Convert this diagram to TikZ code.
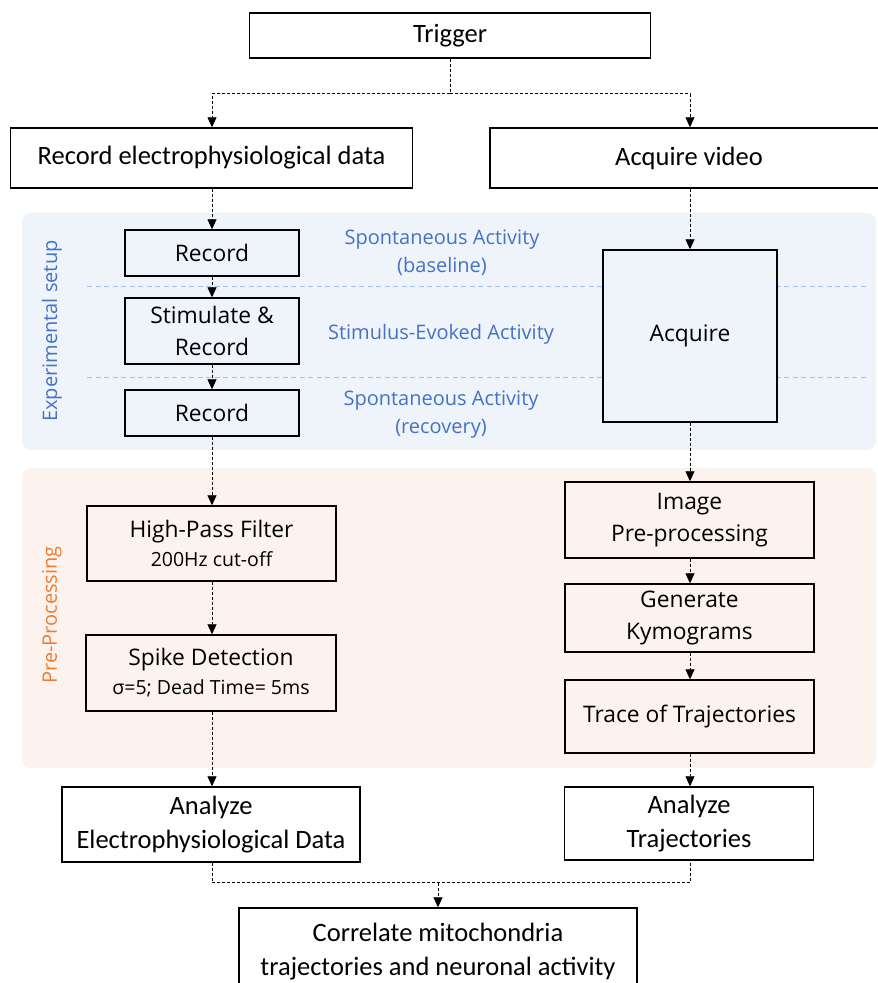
\documentclass[tikz,border=0pt]{standalone}
\usepackage{fontspec}
\setmainfont{Carlito}
\newfontfamily\segoe{Open Sans}
\usetikzlibrary{arrows.meta,positioning}
\definecolor{setupblue}{RGB}{239,244,250}
\definecolor{preppeach}{RGB}{252,243,238}
\definecolor{labelblue}{RGB}{68,114,196}
\definecolor{labelorange}{RGB}{237,125,49}
\definecolor{sepblue}{RGB}{160,190,232}
\newcommand{\subfont}{\segoe\fontsize{19.5}{24}\selectfont}

\begin{document}
\begin{tikzpicture}[x=1pt,y=-1pt,
    outbox/.style={draw,line width=1.4pt,inner sep=0pt,align=center,
      font=\fontsize{26.5}{34}\selectfont},
    inbox/.style={draw,line width=1.4pt,inner sep=0pt,align=center,
      font=\segoe\fontsize{22.8}{32}\selectfont},
    phase/.style={text=labelblue,align=center,font=\segoe\fontsize{20}{28}\selectfont},
    region/.style={rotate=90,font=\segoe\fontsize{20}{24}\selectfont},
    flow/.style={densely dashed,line width=0.7pt,-{Triangle[length=10pt,width=9pt]}},
    flowline/.style={densely dashed,line width=0.7pt},
  ]
  \useasboundingbox (0,0) rectangle (878,983);
  % background regions
  \fill[setupblue,rounded corners=9pt] (22,213) rectangle (876,450);
  \fill[preppeach,rounded corners=9pt] (22,468) rectangle (876,768);
  \draw[sepblue,dash pattern=on 5pt off 3.5pt,line width=1pt] (87,286) -- (866,286);
  \draw[sepblue,dash pattern=on 5pt off 3.5pt,line width=1pt] (87,377) -- (866,377);
  \node[region,text=labelblue] (setuplbl) at (52,331) {Experimental setup};
  \node[region,text=labelorange] (preplbl) at (52,615) {Pre-Processing};
  % columns
  \coordinate (leftcol) at (212,0);
  \coordinate (rightcol) at (690,0);
  % top
  \node[outbox,minimum width=401pt,minimum height=45pt] (trigger) at (450,35.5) {Trigger};
  \node[outbox,minimum width=402pt,minimum height=60pt] (recel) at (211.5,158) {Record electrophysiological data};
  \node[outbox,minimum width=398pt,minimum height=60pt] (acqvid) at (689,158) {Acquire video};
  % experimental setup
  \node[inbox,minimum width=174pt,minimum height=46pt] (rec1) at (212,253) {Record};
  \node[inbox,minimum width=174pt,minimum height=66pt] (stim) at (212,331) {Stimulate \&\\Record};
  \node[inbox,minimum width=174pt,minimum height=46pt] (rec2) at (212,413) {Record};
  \node[inbox,fill=setupblue,minimum width=174pt,minimum height=172pt] (acq) at (690,336) {Acquire};
  \node[phase] (base) at (442,253) {Spontaneous Activity\\(baseline)};
  \node[phase] (evoked) at (441,334) {Stimulus-Evoked Activity};
  \node[phase] (recov) at (441,415) {Spontaneous Activity\\(recovery)};
  % pre-processing
  \node[inbox,minimum width=249pt,minimum height=75pt] (hpf) at (211.5,543.5)
    {High-Pass Filter\\[-3pt]{\subfont 200Hz cut-off}};
  \node[inbox,minimum width=250pt,minimum height=76pt] (spike) at (211,673)
    {Spike Detection\\[-3pt]{\subfont σ=5; Dead Time= 5ms}};
  \node[inbox,minimum width=249pt,minimum height=76pt] (imgpre) at (689.5,520) {Image\\Pre-processing};
  \node[inbox,minimum width=249pt,minimum height=68pt] (genkym) at (689.5,618) {Generate\\Kymograms};
  \node[inbox,minimum width=249pt,minimum height=73pt] (trace) at (689.5,716.5) {Trace of Trajectories};
  % analysis
  \node[outbox,minimum width=298pt,minimum height=75pt] (anael) at (211,824.5) {Analyze\\Electrophysiological Data};
  \node[outbox,minimum width=249pt,minimum height=73pt] (anatr) at (689,823.5) {Analyze\\Trajectories};
  \node[outbox,minimum width=398pt,minimum height=87pt] (corr) at (438,951.5) {Correlate mitochondria\\trajectories and neuronal activity};
  % connectors
  \draw[flowline] (trigger.south) -- ++(0,35) coordinate (split);
  \draw[flow] (split) -| (recel.north -| leftcol);
  \draw[flow] (split) -| (acqvid.north -| rightcol);
  \draw[flow] (recel.south -| leftcol) -- (rec1.north -| leftcol);
  \draw[flow] (rec1.south -| leftcol) -- (stim.north -| leftcol);
  \draw[flow] (stim.south -| leftcol) -- (rec2.north -| leftcol);
  \draw[flow] (rec2.south -| leftcol) -- (hpf.north -| leftcol);
  \draw[flow] (hpf.south -| leftcol) -- (spike.north -| leftcol);
  \draw[flow] (spike.south -| leftcol) -- (anael.north -| leftcol);
  \draw[flow] (acqvid.south -| rightcol) -- (acq.north -| rightcol);
  \draw[flow] (acq.south -| rightcol) -- (imgpre.north -| rightcol);
  \draw[flow] (imgpre.south -| rightcol) -- (genkym.north -| rightcol);
  \draw[flow] (genkym.south -| rightcol) -- (trace.north -| rightcol);
  \draw[flow] (trace.south -| rightcol) -- (anatr.north -| rightcol);
  \draw[flowline] (anael.south -| leftcol) -- ++(0,20) coordinate (joinl)
    -- (joinl -| rightcol) -- (anatr.south -| rightcol);
  \draw[flow] (joinl -| corr.north) -- (corr.north);
\end{tikzpicture}
\end{document}
